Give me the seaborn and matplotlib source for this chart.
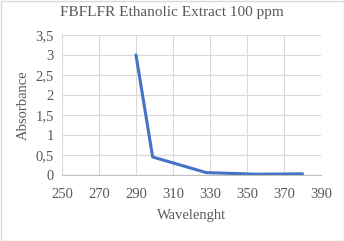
import matplotlib
matplotlib.use("Agg")
import matplotlib.pyplot as plt
import seaborn as sns
import pandas as pd
from matplotlib.ticker import FuncFormatter, MultipleLocator, FixedLocator
from matplotlib.patches import Rectangle

wavelength = [290, 299, 328, 345, 355, 370, 380]
absorbance = [3.0, 0.45, 0.06, 0.035, 0.02, 0.025, 0.03]
xticks = [250, 270, 290, 310, 330, 350, 370, 390]
title = "FBFLFR Ethanolic Extract 100 ppm"
xlabel = "Wavelenght"
ylabel = "Absorbance"

df = pd.DataFrame({"x": wavelength, "y": absorbance})

sns.set_style("white")
plt.rcParams['font.family'] = ['Liberation Serif', 'DejaVu Serif']

fig = plt.figure(figsize=(3.44, 2.41), dpi=100)
ax = fig.add_axes([62/344, 1-175/241, (321-62)/344, (175-35)/241])

sns.lineplot(data=df, x="x", y="y", ax=ax, color="#4472C4", linewidth=2.2, sort=False)

gray = "#595959"
ax.set_xlim(250, 390)
ax.set_ylim(0, 3.5)
ax.xaxis.set_major_locator(FixedLocator(xticks))
ax.yaxis.set_major_locator(MultipleLocator(0.5))
ax.yaxis.set_major_formatter(FuncFormatter(lambda v, p: ("%g" % v).replace(".", ",")))
ax.grid(True, color="#d9d9d9", linewidth=0.8)
ax.set_axisbelow(True)
for s in ["top", "right", "left"]:
    ax.spines[s].set_visible(False)
ax.spines["bottom"].set_color("#bfbfbf")
ax.spines["bottom"].set_linewidth(0.8)
ax.tick_params(axis="both", length=0, labelsize=10.5, colors=gray)
ax.tick_params(axis="x", pad=9)
ax.tick_params(axis="y", pad=6)
ax.set_xlabel(xlabel, fontsize=10.5, color=gray, labelpad=6)
ax.set_ylabel(ylabel, fontsize=10.5, color=gray, labelpad=4)
fig.suptitle(title, fontsize=11, color=gray, y=0.975)

fig.patches.append(Rectangle((0.5/344, 0.5/241), 1-1/344, 1-1/241, transform=fig.transFigure,
                             fill=False, edgecolor="#d9d9d9", linewidth=1))
fig.savefig("out.png", dpi=100, facecolor="white")
